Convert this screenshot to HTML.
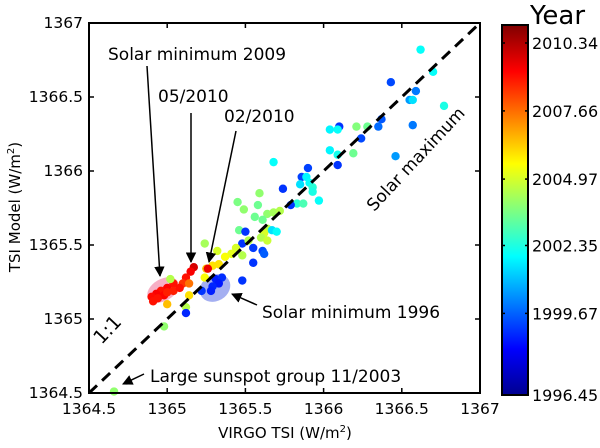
<!DOCTYPE html>
<html><head><meta charset="utf-8"><style>
body{margin:0;background:#fff}
svg text{font-family:"DejaVu Sans","Liberation Sans",sans-serif;fill:#000}
</style></head><body>
<svg id="chart" width="600" height="443" viewBox="0 0 600 443" xmlns="http://www.w3.org/2000/svg">
<defs>
<linearGradient id="jet" x1="0" y1="1" x2="0" y2="0">
<stop offset="0" stop-color="#00008f"/><stop offset="0.125" stop-color="#0000ff"/>
<stop offset="0.375" stop-color="#00ffff"/><stop offset="0.625" stop-color="#ffff00"/>
<stop offset="0.875" stop-color="#ff0000"/><stop offset="1" stop-color="#800000"/>
</linearGradient>
<marker id="ah" viewBox="0 0 10 10" refX="9" refY="5" markerWidth="7" markerHeight="7" orient="auto"><path d="M0,0 L10,5 L0,10 z" fill="#000"/></marker>
</defs>
<g id="ellipses"></g>
<g id="points"></g>
<g id="frame"></g>
</svg>
<script>
const xTicks=[1364.5,1365,1365.5,1366,1366.5,1367];
const yTicks=[1364.5,1365,1365.5,1366,1366.5,1367];
const cbTicks=[2010.34,2007.66,2004.97,2002.35,1999.67,1996.45];
const virgo=[1366.62,1366.70,1366.43,1366.59,1366.55,1366.57,1366.77,1366.57,1366.37,1366.35,1366.28,1366.21,1366.24,1366.10,1366.04,1366.09,1366.04,1366.09,1366.19,1366.09,1366.46,1365.68,1365.90,1365.86,1365.89,1365.85,1365.91,1365.93,1365.74,1365.93,1365.97,1365.83,1365.87,1365.59,1365.45,1365.49,1365.58,1365.64,1365.68,1365.72,1365.79,1365.56,1365.61,1365.64,1365.62,1365.60,1365.64,1365.67,1365.70,1365.46,1365.50,1365.48,1365.52,1365.55,1365.61,1365.62,1365.48,1365.44,1365.41,1365.55,1365.24,1365.32,1365.37,1365.48,1365.33,1365.29,1365.25,1365.24,1365.17,1365.26,1365.15,1365.31,1365.35,1365.33,1365.29,1365.22,1365.28,1365.12,1365.10,1365.04,1365.00,1364.96,1364.93,1364.90,1364.91,1364.98,1365.04,1365.08,1365.14,1365.02,1365.14,1365.00,1365.12,1365.12,1364.98,1364.66,1364.94,1365.00];
const model=[1366.82,1366.67,1366.60,1366.54,1366.48,1366.48,1366.44,1366.31,1366.35,1366.30,1366.30,1366.30,1366.22,1366.30,1366.28,1366.28,1366.14,1366.11,1366.12,1366.04,1366.10,1366.06,1366.02,1365.96,1365.96,1365.91,1365.92,1365.89,1365.88,1365.86,1365.80,1365.78,1365.78,1365.85,1365.79,1365.74,1365.77,1365.71,1365.72,1365.73,1365.77,1365.69,1365.67,1365.61,1365.58,1365.55,1365.53,1365.60,1365.59,1365.60,1365.59,1365.51,1365.53,1365.48,1365.46,1365.44,1365.43,1365.48,1365.44,1365.38,1365.51,1365.46,1365.42,1365.26,1365.37,1365.36,1365.34,1365.28,1365.35,1365.34,1365.32,1365.27,1365.28,1365.24,1365.22,1365.19,1365.19,1365.28,1365.24,1365.24,1365.21,1365.19,1365.17,1365.15,1365.12,1365.16,1365.19,1365.21,1365.24,1365.27,1365.16,1365.10,1365.08,1365.04,1364.95,1364.51,1365.14,1365.18];
const years=[2002,2002,1999.3,2000,2000.5,2001.5,2002.3,2000,1999.5,1999.8,2003.5,2003.8,1999.3,1999,2001.8,2002,2001.8,2002.2,2003.5,1999,2000.5,2002,1999.2,1999.2,2001.8,2001.5,2002,2002.5,1999,2002.3,2002,2002.5,2003,2004,2003.7,2004,2003.5,2004,2004.3,2004.5,1999,2003.5,2003.5,2004.5,2005,2004.5,2004.8,2001.5,2002,2003.5,1999,1999,2004.5,1999.1,1999.3,1999.6,2004.5,2005,2005.2,1999,2004.3,2005,2005.5,1999,2006,2006,2006.5,2005.5,2009.8,2009.5,2009.3,1998.7,1998.9,1998.6,1998.8,1999,1998.7,2009,2008.5,2009,2009.2,2009,2009.3,2009.1,2009,2009.2,2008.8,2009,2007.6,2004.5,2006,2006.5,2004.5,1998.8,2004,2004,2009,2008.8];
const NS='http://www.w3.org/2000/svg';
const X0=89,X1=480,Y0=393,Y1=23,CB0=395,CB1=25;
const xs=v=>X0+(v-1364.5)/(1367-1364.5)*(X1-X0);
const ys=v=>Y0-(v-1364.5)/(1367-1364.5)*(Y0-Y1);
const yrMin=1996.45,yrMax=2011.05;
const cbY=v=>CB0-(v-yrMin)/(yrMax-yrMin)*(CB0-CB1);
function jet(t){const c=x=>Math.round(255*Math.max(0,Math.min(1,x)));return `rgb(${c(1.5-Math.abs(4*t-3))},${c(1.5-Math.abs(4*t-2))},${c(1.5-Math.abs(4*t-1))})`;}
function mk(tag,attrs,parent,txt){const e=document.createElementNS(NS,tag);for(const k in attrs)e.setAttribute(k,attrs[k]);if(txt!==undefined)e.textContent=txt;parent.appendChild(e);return e;}
const eg=document.getElementById('ellipses'),pg=document.getElementById('points'),fg=document.getElementById('frame');
let e1=mk('ellipse',{cx:163,cy:290,rx:17,ry:11,transform:'rotate(-30 163 290)',fill:'rgba(240,110,150,0.55)'},eg);


let e2=mk('ellipse',{cx:215,cy:288,rx:16,ry:13,transform:'rotate(-30 215 288)',fill:'rgba(90,110,230,0.55)'},eg);


for(let i=0;i<virgo.length;i++){
  const c=mk('circle',{cx:xs(virgo[i]),cy:ys(model[i]),r:4.2,fill:jet((years[i]-yrMin)/(yrMax-yrMin))},pg);
  
  
}
let l=mk('line',{x1:xs(1364.5),y1:ys(1364.5),x2:xs(1367),y2:ys(1367),stroke:'#000','stroke-width':3,'stroke-dasharray':'11,7'},fg);


let fr=mk('rect',{x:X0,y:Y1,width:X1-X0,height:Y0-Y1,fill:'none',stroke:'#000','stroke-width':2},fg);


xTicks.forEach(v=>{const x=xs(v);
  mk('line',{x1:x,y1:Y0,x2:x,y2:Y0-5,stroke:'#000','stroke-width':1.5},fg);
  mk('line',{x1:x,y1:Y1,x2:x,y2:Y1+5,stroke:'#000','stroke-width':1.5},fg);
  const t=mk('text',{x:x,y:Y0+21,'text-anchor':'middle','font-size':15.5},fg,String(v));
  
  });
yTicks.forEach(v=>{const y=ys(v);
  mk('line',{x1:X0,y1:y,x2:X0+5,y2:y,stroke:'#000','stroke-width':1.5},fg);
  mk('line',{x1:X1,y1:y,x2:X1-5,y2:y,stroke:'#000','stroke-width':1.5},fg);
  const t=mk('text',{x:X0-6,y:y+5,'text-anchor':'end','font-size':15.5},fg,String(v));
  
  });
let cb=mk('rect',{x:502,y:CB1,width:26,height:CB0-CB1,fill:'url(#jet)',stroke:'#000','stroke-width':2},fg);


cbTicks.forEach(v=>{const y=cbY(v);
  mk('line',{x1:502,y1:y,x2:505,y2:y,stroke:'#000','stroke-width':1.5},fg);
  mk('line',{x1:528,y1:y,x2:525,y2:y,stroke:'#000','stroke-width':1.5},fg);
  const t=mk('text',{x:532,y:y+6,'font-size':16},fg,v.toFixed(2));
  
  });
</script>
<svg width="600" height="443" style="position:absolute;left:0;top:0" viewBox="0 0 600 443">
<defs><marker id="ah2" viewBox="0 0 10 10" refX="9" refY="5" markerWidth="7" markerHeight="7" orient="auto"><path d="M0,0 L10,5 L0,10 z" fill="#000"/></marker></defs>
<text x="530" y="24" font-size="26">Year</text>
<text x="285" y="438" font-size="15" text-anchor="middle">VIRGO TSI (W/m<tspan font-size="10" dy="-6">2</tspan><tspan dy="6">)</tspan></text>
<text transform="translate(20 207) rotate(-90)" font-size="15" text-anchor="middle">TSI Model (W/m<tspan font-size="10" dy="-6">2</tspan><tspan dy="6">)</tspan></text>
<text x="108" y="60" font-size="17">Solar minimum 2009</text>
<line x1="147" y1="66" x2="160" y2="276" stroke="#000" stroke-width="1.5" marker-end="url(#ah2)"/>
<text x="158" y="102" font-size="17">05/2010</text>
<line x1="191" y1="113" x2="191" y2="262" stroke="#000" stroke-width="1.5" marker-end="url(#ah2)"/>
<text x="224" y="122" font-size="17">02/2010</text>
<line x1="236" y1="131" x2="209" y2="262" stroke="#000" stroke-width="1.5" marker-end="url(#ah2)"/>
<text x="262" y="318" font-size="17">Solar minimum 1996</text>
<line x1="257" y1="305" x2="232" y2="294" stroke="#000" stroke-width="1.5" marker-end="url(#ah2)"/>
<text x="150" y="382" font-size="17">Large sunspot group 11/2003</text>
<line x1="144" y1="374" x2="123" y2="384" stroke="#000" stroke-width="1.5" marker-end="url(#ah2)"/>
<text transform="translate(112 334) rotate(-47)" font-size="19" text-anchor="middle">1:1</text>
<text transform="translate(420 163) rotate(-47)" font-size="17" text-anchor="middle">Solar maximum</text>
</svg>
</body></html>
